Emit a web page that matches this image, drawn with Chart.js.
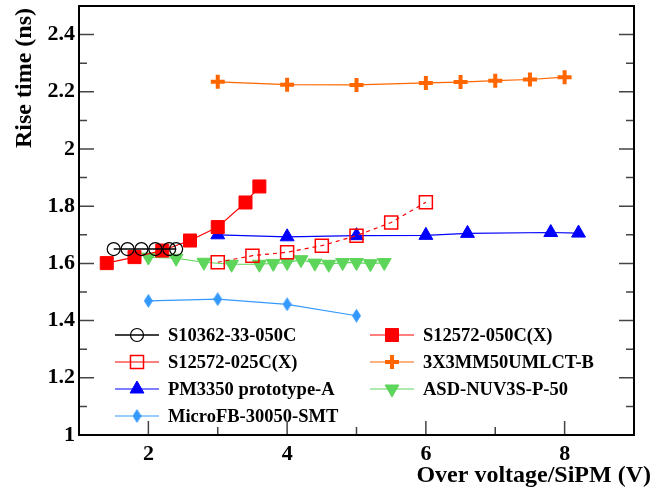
<!DOCTYPE html>
<html lang="en">
<head>
<meta charset="UTF-8">
<title>Rise time vs over voltage</title>
<script src="https://cdn.jsdelivr.net/npm/chart.js"></script>
<style>
  html, body { margin: 0; padding: 0; background: #fff; }
</style>
</head>
<body>
<canvas id="riseChart" width="656" height="489"></canvas>
<script>
// --- data ---
const seriesNames = ['S10362-33-050C', 'S12572-050C(X)', 'S12572-025C(X)', '3X3MM50UMLCT-B',
                     'PM3350 prototype-A', 'ASD-NUV3S-P-50', 'MicroFB-30050-SMT'];

const s10362X = [1.5, 1.7, 1.9, 2.1, 2.3, 2.4];
const s10362Y = [1.65, 1.65, 1.65, 1.65, 1.65, 1.65];

const s12572_050X = [1.4, 1.8, 2.2, 2.6, 3.0, 3.4, 3.6];
const s12572_050Y = [1.601, 1.622, 1.645, 1.680, 1.727, 1.813, 1.869];

const s12572_025X = [3.0, 3.5, 4.0, 4.5, 5.0, 5.5, 6.0];
const s12572_025Y = [1.604, 1.627, 1.639, 1.662, 1.697, 1.743, 1.814];

const umlctX = [3, 4, 5, 6, 6.5, 7, 7.5, 8];
const umlctY = [2.235, 2.225, 2.224, 2.231, 2.234, 2.239, 2.243, 2.251];

const pm3350X = [3, 4, 5, 6, 6.6, 7.8, 8.2];
const pm3350Y = [1.700, 1.693, 1.697, 1.698, 1.705, 1.708, 1.706];

const asdX = [2.0, 2.4, 2.8, 3.2, 3.6, 3.8, 4.0, 4.2, 4.4, 4.6, 4.8, 5.0, 5.2, 5.4];
const asdY = [1.622, 1.618, 1.604, 1.597, 1.597, 1.600, 1.603, 1.613, 1.601, 1.597, 1.603, 1.603, 1.599, 1.603];

const microX = [2, 3, 4, 5];
const microY = [1.469, 1.475, 1.457, 1.417];

const xTicks = [2, 4, 6, 8];
const yTicks = [1, 1.2, 1.4, 1.6, 1.8, 2, 2.2, 2.4];

const xTitle = 'Over voltage/SiPM (V)';
const yTitle = 'Rise time (ns)';

const FONT = '"Liberation Serif", "Times New Roman", serif';

function pts(xs, ys) {
    return xs.map((x, i) => ({ x: x, y: ys[i] }));
}

// tall diamond marker
function diamond(w, h, color) {
    const c = document.createElement('canvas');
    c.width = w; c.height = h;
    const g = c.getContext('2d');
    g.fillStyle = color;
    g.beginPath();
    g.moveTo(w / 2, 0);
    g.lineTo(w, h / 2);
    g.lineTo(w / 2, h);
    g.lineTo(0, h / 2);
    g.closePath();
    g.fill();
    return c;
}

const RED = '#ff0000', ORANGE = '#ff6600', BLUE = '#0000ff', GREEN = '#5dd55a', LBLUE = '#3399ff';

const datasets = [
    { label: seriesNames[0], data: pts(s10362X, s10362Y), borderColor: '#000', borderWidth: 1.5,
      pointStyle: 'circle', pointRadius: 6.5, pointBackgroundColor: 'rgba(0,0,0,0)', pointBorderColor: '#000', pointBorderWidth: 1.2 },
    { label: seriesNames[1], data: pts(s12572_050X, s12572_050Y), borderColor: RED, borderWidth: 1.2,
      pointStyle: 'rect', pointRadius: 9.2, pointBackgroundColor: RED, pointBorderColor: RED, pointBorderWidth: 1 },
    { label: seriesNames[2], data: pts(s12572_025X, s12572_025Y), borderColor: RED, borderWidth: 1.2, borderDash: [4, 4],
      pointStyle: 'rect', pointRadius: 9.2, pointBackgroundColor: 'rgba(0,0,0,0)', pointBorderColor: RED, pointBorderWidth: 1.5 },
    { label: seriesNames[3], data: pts(umlctX, umlctY), borderColor: ORANGE, borderWidth: 1.2,
      pointStyle: 'cross', pointRadius: 7, pointBackgroundColor: ORANGE, pointBorderColor: ORANGE, pointBorderWidth: 4 },
    { label: seriesNames[4], data: pts(pm3350X, pm3350Y), borderColor: BLUE, borderWidth: 1.2,
      pointStyle: 'triangle', pointRadius: 8, pointBackgroundColor: BLUE, pointBorderColor: BLUE, pointBorderWidth: 1 },
    { label: seriesNames[5], data: pts(asdX, asdY), borderColor: GREEN, borderWidth: 1.2,
      pointStyle: 'triangle', pointRotation: 180, pointRadius: 8, pointBackgroundColor: GREEN, pointBorderColor: GREEN, pointBorderWidth: 1 },
    { label: seriesNames[6], data: pts(microX, microY), borderColor: LBLUE, borderWidth: 1.2,
      pointStyle: diamond(9, 14, LBLUE), pointRadius: 7, pointBackgroundColor: LBLUE, pointBorderColor: LBLUE, pointBorderWidth: 0 }
];

// legend slots: [dataset index, column, row]
const legendSlots = [[0, 0, 0], [1, 1, 0], [2, 0, 1], [3, 1, 1], [4, 0, 2], [5, 1, 2], [6, 0, 3]];

const rootLegend = {
    id: 'rootLegend',
    afterDatasetsDraw(chart) {
        const ctx = chart.ctx;
        const colX = [115, 370];
        const rowY = [335, 362, 389, 416];
        ctx.save();
        legendSlots.forEach(([i, c, r]) => {
            const ds = chart.data.datasets[i];
            const x0 = colX[c], y0 = rowY[r];
            ctx.strokeStyle = ds.borderColor;
            ctx.lineWidth = ds.borderWidth;
            ctx.setLineDash([]);
            ctx.beginPath();
            ctx.moveTo(x0, y0);
            ctx.lineTo(x0 + 44, y0);
            ctx.stroke();
            ctx.fillStyle = ds.pointBackgroundColor;
            ctx.strokeStyle = ds.pointBorderColor;
            ctx.lineWidth = ds.pointBorderWidth;
            Chart.helpers.drawPoint(ctx, {
                pointStyle: ds.pointStyle,
                radius: ds.pointRadius,
                rotation: ds.pointRotation || 0,
                borderWidth: ds.pointBorderWidth
            }, x0 + 22, y0);
            ctx.fillStyle = '#000';
            ctx.font = 'bold 18.5px ' + FONT;
            ctx.textAlign = 'left';
            ctx.textBaseline = 'middle';
            ctx.fillText(ds.label, x0 + 53, y0 + 1);
        });
        ctx.restore();
    }
};

const rootFrame = {
    id: 'rootFrame',
    afterDraw(chart) {
        const { ctx, chartArea: a, scales: { x, y } } = chart;
        ctx.save();
        // inward ticks
        ctx.strokeStyle = '#444';
        ctx.lineWidth = 1.5;
        ctx.beginPath();
        for (let k = 1; k < 15; k++) {
            const py = y.getPixelForValue(1 + k * 0.1);
            const len = k % 2 === 0 ? 15 : 8;
            ctx.moveTo(a.left, py); ctx.lineTo(a.left + len, py);
            ctx.moveTo(a.right, py); ctx.lineTo(a.right - len, py);
        }
        for (let v = 2; v <= 8; v++) {
            const px = x.getPixelForValue(v);
            const len = v % 2 === 0 ? 14 : 8;
            ctx.moveTo(px, a.bottom); ctx.lineTo(px, a.bottom - len);
        }
        ctx.stroke();
        // frame
        ctx.strokeStyle = '#000';
        ctx.lineWidth = 2;
        ctx.strokeRect(a.left, a.top, a.right - a.left, a.bottom - a.top);
        // axis titles
        ctx.fillStyle = '#000';
        ctx.font = 'bold 24px ' + FONT;
        ctx.textBaseline = 'alphabetic';
        ctx.textAlign = 'right';
        ctx.fillText(xTitle, 651, 482);
        ctx.translate(31, 8);
        ctx.rotate(-Math.PI / 2);
        ctx.fillText(yTitle, 0, 0);
        ctx.restore();
    }
};

new Chart(document.getElementById('riseChart'), {
    type: 'scatter',
    data: { datasets: datasets.map(d => Object.assign({ showLine: true, fill: false, tension: 0 }, d)) },
    options: {
        responsive: false,
        animation: false,
        layout: { autoPadding: false, padding: { left: 0, top: 6, right: 22, bottom: 0 } },
        plugins: { legend: { display: false }, tooltip: { enabled: false } },
        scales: {
            x: {
                type: 'linear', min: 1, max: 9,
                afterBuildTicks: s => { s.ticks = xTicks.map(v => ({ value: v })); },
                afterFit: s => { s.height = 54; s.paddingLeft = 0; s.paddingRight = 0; },
                grid: { display: false, drawTicks: false },
                border: { display: false },
                ticks: { color: '#000', padding: 6, maxRotation: 0, font: { family: FONT, size: 22, weight: 'bold' },
                         callback: v => String(v) }
            },
            y: {
                type: 'linear', min: 1, max: 2.5,
                afterBuildTicks: s => { s.ticks = yTicks.map(v => ({ value: v })); },
                afterFit: s => { s.width = 79; s.paddingTop = 0; s.paddingBottom = 0; },
                grid: { display: false, drawTicks: false },
                border: { display: false },
                ticks: { color: '#000', padding: 4, font: { family: FONT, size: 22, weight: 'bold' },
                         callback: v => String(+(+v).toFixed(1)) }
            }
        }
    },
    plugins: [rootFrame, rootLegend]
});
</script>
</body>
</html>
